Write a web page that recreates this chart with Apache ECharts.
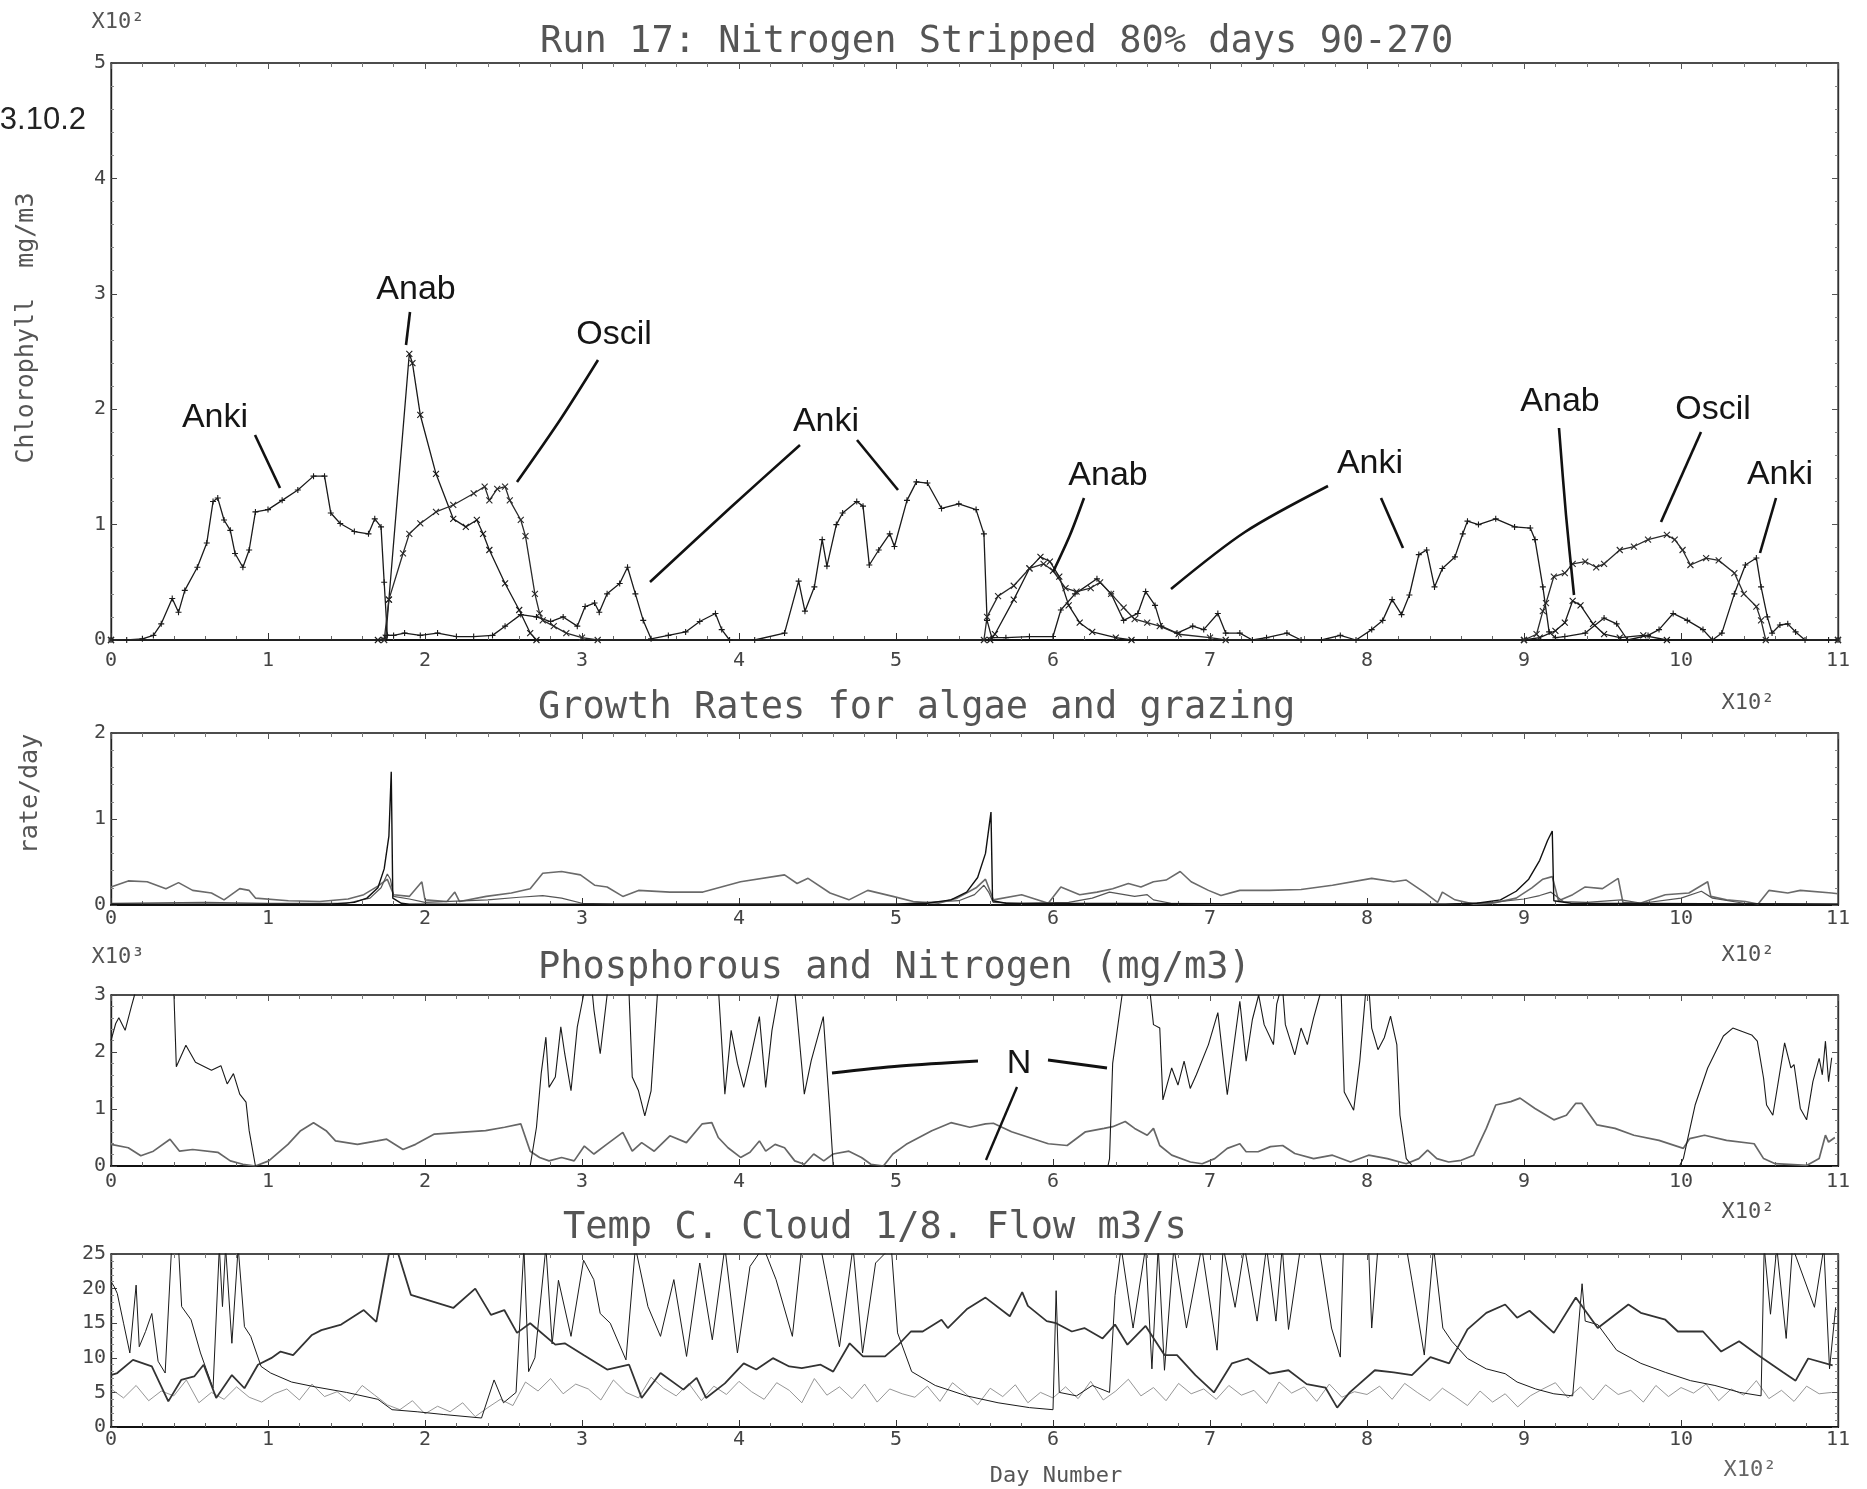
<!DOCTYPE html>
<html><head><meta charset="utf-8">
<script src="https://cdn.jsdelivr.net/npm/echarts@6/dist/echarts.min.js"></script>
<style>html,body{margin:0;padding:0;background:#fff}#c{width:1867px;height:1489px}</style>
</head><body><div id="c"></div><script>
// ---------- DATA (day, value) ----------
const xTickLabels = ['0','1','2','3','4','5','6','7','8','9','10','11'];

// Panel 1: Chlorophyll (x10^2 mg/m3)
const ankiData = [[0,0],[10,0],[20,0.01],[27,0.04],[32,0.14],[39,0.36],[43,0.24],[47,0.43],[55,0.63],[61,0.84],[65,1.2],[68,1.23],[72,1.04],[76,0.95],[79,0.75],[84,0.63],[88,0.78],[92,1.11],[100,1.13],[109,1.21],[119,1.3],[129,1.42],[136,1.42],[140,1.1],[146,1.01],[155,0.94],[164,0.92],[168,1.05],[172,0.98],[174,0.5],[176,0.04],[180,0.04],[187,0.06],[197,0.04],[208,0.06],[220,0.03],[231,0.03],[243,0.04],[251,0.12],[261,0.22],[271,0.2],[280,0.16],[288,0.2],[297,0.12],[302,0.29],[308,0.32],[311,0.24],[316,0.4],[324,0.49],[329,0.63],[334,0.4],[339,0.17],[344,0.01],[355,0.04],[366,0.07],[375,0.16],[385,0.23],[389,0.09],[394,0.0],[410,0.0],[429,0.06],[438,0.51],[442,0.25],[448,0.46],[453,0.87],[456,0.64],[462,1.0],[466,1.1],[475,1.2],[479,1.16],[483,0.65],[489,0.78],[496,0.92],[499,0.81],[507,1.21],[513,1.37],[520,1.36],[529,1.14],[540,1.18],[551,1.13],[556,0.92],[558,0.17],[561,0.02],[570,0.02],[585,0.03],[600,0.03],[605,0.26],[614,0.4],[628,0.53],[637,0.4],[645,0.17],[654,0.23],[659,0.42],[665,0.3],[669,0.12],[679,0.06],[689,0.12],[696,0.09],[705,0.23],[710,0.06],[719,0.06],[727,0.0],[736,0.02],[749,0.06],[758,0.0],[771,0.0],[783,0.04],[793,0.0],[803,0.09],[810,0.17],[816,0.35],[822,0.22],[827,0.39],[833,0.74],[838,0.78],[843,0.46],[848,0.62],[856,0.72],[861,0.92],[864,1.03],[871,1.0],[882,1.05],[894,0.98],[904,0.97],[907,0.87],[912,0.46],[916,0.07],[920,0.02],[926,0.03],[939,0.06],[951,0.19],[959,0.14],[966,0.0],[979,0.04],[986,0.09],[995,0.23],[1004,0.17],[1014,0.09],[1020,0.0],[1026,0.06],[1034,0.4],[1041,0.65],[1048,0.71],[1051,0.46],[1055,0.2],[1058,0.06],[1063,0.13],[1068,0.14],[1073,0.07],[1079,0.0],[1094,0.0],[1100,0.0]];
const anabData = [[0,0],[170,0],[175,0.02],[177,0.35],[190,2.48],[192,2.4],[197,1.95],[207,1.44],[218,1.05],[226,0.98],[233,1.04],[237,0.92],[241,0.78],[251,0.49],[260,0.26],[267,0.06],[271,0.0],[560,0.0],[563,0.05],[575,0.35],[585,0.62],[592,0.72],[598,0.68],[604,0.55],[610,0.3],[617,0.15],[625,0.07],[640,0.02],[650,0.0],[900,0.0],[910,0.02],[920,0.08],[926,0.15],[931,0.34],[936,0.3],[944,0.14],[951,0.05],[961,0.02],[976,0.04],[991,0.0],[1100,0]];
const oscilData = [[0,0],[174,0],[177,0.35],[186,0.75],[190,0.92],[197,1.01],[207,1.11],[218,1.17],[231,1.27],[238,1.33],[241,1.21],[246,1.31],[251,1.33],[254,1.21],[261,1.04],[264,0.9],[270,0.4],[273,0.23],[275,0.17],[282,0.12],[290,0.06],[300,0.02],[310,0],[556,0],[558,0.2],[565,0.38],[575,0.47],[585,0.62],[594,0.66],[600,0.6],[608,0.45],[615,0.42],[624,0.45],[630,0.5],[637,0.4],[645,0.28],[652,0.18],[660,0.15],[668,0.12],[680,0.05],[700,0.02],[710,0],[900,0],[908,0.05],[912,0.25],[914,0.32],[919,0.55],[926,0.58],[931,0.66],[939,0.68],[946,0.63],[951,0.66],[961,0.78],[970,0.81],[979,0.87],[991,0.91],[996,0.87],[1001,0.78],[1006,0.65],[1016,0.71],[1024,0.69],[1034,0.58],[1040,0.4],[1048,0.29],[1051,0.17],[1054,0.0],[1100,0]];

// Panel 2: growth rates (1/day)
const growthSpike = [[0,0.01],[100,0.01],[140,0.01],[155,0.03],[163,0.08],[170,0.2],[174,0.42],[177,0.8],[178.5,1.55],[179.5,0.08],[185,0.02],[190,0.01],[500,0.01],[520,0.02],[535,0.06],[545,0.15],[552,0.32],[557,0.6],[560.5,1.08],[561.5,0.05],[570,0.02],[850,0.01],[870,0.02],[885,0.06],[895,0.16],[903,0.3],[910,0.52],[915,0.75],[918,0.86],[919,0.05],[930,0.02],[1100,0.01]];
const growthLow = [[0,0.02],[60,0.03],[100,0.02],[150,0.02],[165,0.08],[172,0.2],[176,0.36],[178,0.3],[180,0.1],[190,0.07],[200,0.03],[240,0.06],[260,0.09],[275,0.11],[287,0.08],[300,0.02],[320,0.01],[500,0.01],[540,0.05],[550,0.12],[556,0.23],[559,0.15],[562,0.03],[580,0.02],[610,0.03],[625,0.08],[636,0.15],[652,0.1],[660,0.12],[664,0.06],[675,0.02],[700,0.01],[850,0.01],[880,0.03],[900,0.07],[910,0.11],[917,0.15],[925,0.04],[940,0.03],[962,0.06],[975,0.02],[1000,0.08],[1013,0.16],[1020,0.08],[1040,0.02],[1100,0.01]];
const grazing = [[0,0.21],[11,0.28],[23,0.27],[35,0.19],[43,0.26],[52,0.17],[64,0.14],[72,0.06],[82,0.19],[88,0.17],[92,0.08],[113,0.05],[133,0.04],[151,0.07],[161,0.12],[170,0.22],[176,0.3],[180,0.12],[190,0.1],[198,0.27],[200,0.06],[214,0.04],[219,0.15],[222,0.04],[239,0.1],[255,0.14],[267,0.19],[275,0.37],[287,0.39],[299,0.35],[308,0.23],[316,0.21],[326,0.1],[336,0.17],[356,0.15],[377,0.15],[401,0.27],[429,0.35],[437,0.25],[444,0.31],[458,0.14],[470,0.06],[482,0.17],[498,0.1],[511,0.04],[527,0.02],[539,0.08],[551,0.2],[557,0.3],[562,0.06],[580,0.12],[597,0.02],[605,0.21],[617,0.12],[628,0.15],[638,0.19],[648,0.25],[656,0.21],[664,0.27],[672,0.29],[681,0.39],[688,0.27],[699,0.17],[707,0.11],[719,0.17],[738,0.17],[758,0.18],[778,0.23],[803,0.31],[817,0.27],[825,0.29],[837,0.14],[845,0.03],[848,0.15],[856,0.06],[868,0.01],[880,0.02],[895,0.08],[905,0.2],[912,0.3],[918,0.33],[922,0.05],[931,0.12],[939,0.21],[950,0.19],[960,0.31],[963,0.03],[974,0.02],[990,0.12],[1005,0.14],[1017,0.27],[1019,0.1],[1029,0.06],[1041,0.04],[1049,0.01],[1056,0.17],[1068,0.14],[1076,0.17],[1096,0.14],[1100,0.13]];

// Panel 3: Phosphorous and Nitrogen (x10^3 mg/m3)
const nitrogen = [[0,2.2],[3,2.5],[5,2.6],[9,2.38],[13,2.8],[15,3.0],[18,3.5],[38,3.5],[40,3.1],[41.6,1.74],[47.7,2.12],[53.8,1.82],[64,1.68],[70,1.76],[74,1.44],[78,1.62],[82,1.26],[86,1.12],[88,0.62],[92,0.0],[267,0.0],[271,0.68],[274,1.62],[277,2.26],[279,1.38],[283,1.56],[286.5,2.44],[289,1.97],[293,1.32],[297,2.44],[301,3.0],[303,3.4],[306,3.2],[307.6,2.74],[311.6,1.97],[316,3.0],[318,3.5],[328,3.5],[330,3.0],[332,1.56],[336,1.32],[340,0.88],[344,1.32],[348,3.0],[350,3.5],[386,3.5],[388,2.62],[391,1.26],[395,2.38],[399,1.8],[403,1.38],[407,1.85],[413,2.62],[417,1.38],[421,2.38],[425,3.0],[428,3.5],[434,3.5],[436.7,2.74],[441.6,1.26],[446,1.85],[453.7,2.62],[457.8,0.97],[460,0.0],[635,0.0],[636,0.13],[638,1.8],[644,3.0],[647,3.5],[659,3.5],[662,3.0],[664,2.48],[668,2.42],[670,1.16],[675.6,1.72],[679.6,1.42],[683.5,1.84],[687.4,1.36],[691.3,1.6],[699,2.13],[705,2.69],[709,1.72],[711,1.25],[715,2.07],[719,2.89],[723,1.84],[727,2.57],[731,3.0],[734.5,2.48],[740.4,2.13],[742.5,2.84],[746,3.2],[748,2.48],[754,1.95],[758,2.42],[762,2.13],[766,2.6],[770,3.0],[773,3.5],[781,3.5],[783.6,3.0],[785.5,1.3],[791.5,0.98],[795.4,1.84],[799,3.0],[801,3.2],[803,2.42],[807,2.04],[811,2.25],[815,2.63],[819,2.13],[821,0.89],[825,0.13],[829,0.0],[999,0.0],[1001.5,0.13],[1009,1.07],[1017,1.72],[1027,2.28],[1033,2.42],[1039,2.36],[1045,2.3],[1048.6,2.19],[1052.6,1.54],[1054.5,1.07],[1058.5,0.89],[1066,2.16],[1070,1.72],[1072,1.78],[1076,1.01],[1080,0.81],[1084,1.48],[1088,1.89],[1090,1.6],[1092,2.19],[1094,1.48],[1096,1.9]];
const phosphorus = [[0,0.38],[11,0.32],[19,0.18],[27,0.26],[37.6,0.47],[43.7,0.26],[52,0.29],[68,0.24],[76,0.09],[84,0.03],[92,0.0],[100.5,0.09],[112.7,0.38],[120.8,0.62],[129,0.76],[137,0.62],[143,0.44],[157,0.38],[169.5,0.44],[175.6,0.47],[186,0.29],[194,0.38],[206,0.56],[222,0.59],[238.6,0.62],[250.7,0.68],[261,0.74],[267,0.26],[273,0.15],[279,0.09],[287,0.15],[295,0.09],[301.5,0.35],[307.6,0.21],[315.7,0.38],[326,0.59],[332,0.26],[338,0.41],[346,0.26],[356,0.53],[366.5,0.41],[376.6,0.74],[382.7,0.76],[386.8,0.5],[393,0.32],[401,0.15],[407,0.24],[413,0.44],[417,0.26],[423,0.38],[429,0.32],[435.5,0.09],[441.6,0.03],[447.6,0.21],[454,0.09],[460,0.21],[470,0.26],[478,0.15],[484,0.03],[492,0.0],[498,0.21],[506.5,0.38],[522.8,0.62],[535,0.76],[547,0.68],[557,0.74],[562,0.75],[573.6,0.6],[597,0.39],[609,0.36],[620.7,0.6],[632.5,0.66],[638,0.69],[646,0.78],[652,0.66],[660,0.54],[664,0.66],[668,0.36],[675.6,0.19],[687.5,0.07],[695,0.04],[703,0.13],[711,0.31],[719,0.39],[723,0.25],[730.6,0.25],[738.5,0.34],[746.3,0.36],[754,0.22],[766,0.13],[778,0.19],[789.5,0.07],[801,0.19],[813,0.13],[825,0.04],[833,0.13],[838.6,0.28],[844.5,0.13],[852,0.07],[860,0.1],[868,0.19],[876,0.66],[882,1.07],[891.6,1.13],[897.5,1.19],[907,1.01],[919,0.81],[927,0.89],[933,1.1],[936.7,1.1],[946.5,0.72],[958,0.66],[970,0.54],[986,0.45],[1001.5,0.31],[1005.5,0.48],[1015,0.54],[1029,0.45],[1046.6,0.39],[1052.6,0.13],[1060,0.04],[1080,0.01],[1088,0.13],[1092,0.54],[1094,0.42],[1098,0.5]];

// Panel 4: Temp C, Cloud 1/8, Flow m3/s
const temperature = [[0,7.5],[4,7.8],[14,9.7],[26,8.75],[36.5,3.7],[44.7,6.8],[53,7.3],[59,9.0],[67,4.2],[77,7.5],[85,5.6],[93.6,9.0],[102,9.95],[108,10.9],[116,10.4],[128,13.3],[134,14.0],[146.6,14.8],[161,16.9],[169,15.2],[177,25],[183,25],[191,19.1],[218,17.2],[232,20.0],[242,16.2],[250.5,16.9],[258.6,13.6],[267,15.0],[283,11.9],[289,12.1],[301,10.4],[316,8.3],[330,9.0],[338,4.2],[350,7.8],[364.6,5.4],[373,7.1],[379,4.2],[391,6.3],[403,9.2],[411,8.3],[421.6,9.95],[432,8.75],[440,8.5],[452,9.0],[460,8.0],[470.5,12.1],[479,10.2],[493,10.2],[501.6,11.9],[509.5,13.8],[517,13.8],[529,15.5],[533,14.3],[545,17.0],[557,18.7],[572.5,16.0],[580.4,19.5],[584,17.5],[596,15.3],[602,15.0],[612,13.8],[620,14.3],[631.6,12.8],[639.5,14.8],[647.4,11.9],[659,14.6],[671,10.4],[679,10.4],[690.7,7.5],[702.5,5.0],[714,9.2],[724,9.9],[738,7.7],[750,8.2],[761.6,6.2],[773.5,5.7],[781,2.8],[789,5.0],[805,8.2],[817,7.9],[828.6,7.5],[840.4,10.1],[852.3,9.2],[864,14.1],[876,16.5],[888,17.7],[895.6,15.8],[903.5,16.8],[919,13.6],[933,18.7],[947,14.3],[966.5,17.7],[974.4,16.5],[990,15.5],[998,13.8],[1014,13.8],[1025.6,10.9],[1037,12.4],[1049,10.4],[1065,7.9],[1073,6.7],[1081,9.9],[1096.6,8.9]];
const flow = [[0,21],[2,20.3],[4,19.3],[8,15],[12,10.7],[16,20.5],[18,11.6],[22,13.8],[26,16.4],[30,9.5],[34.5,7.8],[38.6,26],[43,26],[45,17.4],[51,15.5],[57,10.7],[65,5.6],[69,26],[71,17.4],[73,26],[77,12.1],[81,26],[85,14.5],[89,13.1],[95.6,8.75],[101.7,7.8],[115,6.5],[130,5.8],[150,5.0],[170,4.0],[179,2.5],[195,2.2],[212,1.8],[236,1.3],[244,6.8],[250,3.5],[258,5.0],[263,26],[266,8],[270,10],[277,26],[281,12],[285,21.2],[293,13.1],[301,24.1],[307.5,21.3],[311.6,16.4],[318,15.0],[328,9.7],[334,26],[342,17.4],[350,13.1],[358.5,21.3],[366.6,10.2],[375,23.7],[383,12.6],[391,26],[399,10.7],[407,23.2],[415.5,26],[423.6,21.3],[434,13.1],[440,26],[452,26],[456,21.3],[464,11.6],[472.6,26],[478.7,10.7],[487,23.7],[497,26],[501,13.6],[510,8],[525,6.0],[545,4.5],[565,3.5],[585,2.8],[600,2.5],[602,19.7],[604,5],[615,4.5],[625,6],[636,5],[639.5,19.0],[643.4,26],[651,14.3],[659,26],[663,8.4],[667,26],[671,8.2],[677,26],[685,14.3],[694.7,26],[704.5,11.1],[708.4,26],[716,17.3],[722,26],[730,15.3],[736,26],[742,15.3],[746,26],[750,14.1],[757.7,26],[769.5,26],[777.4,14.3],[783,10.1],[785,26],[801,26],[803,14.3],[807,26],[825,26],[828.6,21.2],[836.5,10.4],[842.4,26],[848.3,14.3],[854,12.4],[864,9.9],[876,8.4],[888,7.7],[895.6,6.5],[907.4,5.5],[919,4.8],[931,4.5],[937,20.7],[939,15.3],[947,14.8],[959,11.1],[974.4,9.2],[990,7.9],[1006,6.7],[1021.6,6.0],[1037.4,5.0],[1051,4.5],[1053,26],[1057,16.3],[1061,26],[1067,12.8],[1071,26],[1085,17.3],[1091,26],[1094.6,8.4],[1098.5,17.3]];
const cloudDayStep = 8;
const cloudVals = [5.5,4.2,6.0,3.8,5.2,4.5,6.8,3.5,5.0,4.0,5.8,4.3,3.6,
 4.8,5.5,3.9,6.2,4.4,5.1,3.7,6.0,4.6,3.2,
 2.5,3.8,1.9,3.0,2.2,3.5,1.5,2.8,4.0,3.1,
 6.5,5.2,7.0,4.8,6.2,5.5,3.9,6.8,5.0,4.2,7.2,5.6,4.5,6.3,3.8,5.9,4.7,6.6,
 5.1,4.0,6.4,5.3,3.5,7.0,4.6,5.8,4.1,6.2,3.6,5.5,4.8,
 4.3,5.9,3.7,6.4,4.9,3.2,5.6,4.4,6.1,3.5,5.0,4.2,
 5.8,4.1,6.6,3.9,5.2,6.9,4.5,5.7,3.8,6.3,4.8,5.5,4.0,
 6.0,4.6,5.3,3.4,6.5,4.9,5.8,3.7,6.2,4.3,5.1,4.7,
 5.9,4.0,6.3,5.0,3.8,5.6,4.4,3.1,5.2,3.6,4.8,2.9,4.5,
 5.5,6.4,4.2,5.8,3.9,6.1,4.7,5.3,3.6,6.0,4.4,5.7,
 4.9,6.2,3.8,5.5,4.6,6.7,4.1,5.3,3.7,5.9,4.8,5.0];
const cloud = cloudVals.map((v, i) => [i * cloudDayStep, v]);

// ---------- LAYOUT ----------
const MONO = '"DejaVu Sans Mono", monospace';
const SANS = '"Liberation Sans", Arial, sans-serif';
const grids = [
  {top: 63, height: 577},
  {top: 733, height: 172},
  {top: 995, height: 171},
  {top: 1254, height: 173}
];
const yRanges = [[0,5,1],[0,2,1],[0,3,1],[0,25,5]];
const xLabelMargins = [11, 4, 6, 3];

const gridOpts = grids.map(g => ({left: 111, right: 29, top: g.top, height: g.height, show: true, borderColor: '#333', borderWidth: 1.2, containLabel: false}));
const xAxes = [], yAxes = [];
grids.forEach((g, i) => {
  xAxes.push({type: 'value', gridIndex: i, min: 0, max: 1100, interval: 100, position: 'bottom',
    axisLine: {show: true, onZero: false, lineStyle: {color: '#111', width: 2.2}},
    axisTick: {show: true, inside: true, length: 7, lineStyle: {color: '#333'}},
    minorTick: {show: true, splitNumber: 5, length: 4, lineStyle: {color: '#666'}},
    splitLine: {show: false},
    axisLabel: {show: true, margin: xLabelMargins[i], fontFamily: MONO, fontSize: 20, color: '#444',
      formatter: v => xTickLabels[Math.round(v / 100)]}});
  xAxes.push({type: 'value', gridIndex: i, min: 0, max: 1100, interval: 100, position: 'top',
    axisLine: {show: true, onZero: false, lineStyle: {color: '#333', width: 1.6}},
    axisTick: {show: true, inside: true, length: 6, lineStyle: {color: '#555'}},
    minorTick: {show: true, splitNumber: 5, length: 4, lineStyle: {color: '#777'}},
    splitLine: {show: false}, axisLabel: {show: false}});
  const r = yRanges[i];
  yAxes.push({type: 'value', gridIndex: i, min: r[0], max: r[1], interval: r[2], position: 'left',
    axisLine: {show: true, onZero: false, lineStyle: {color: '#222', width: 1.4}},
    axisTick: {show: true, inside: true, length: 6, lineStyle: {color: '#444'}},
    minorTick: {show: true, splitNumber: 5, length: 3, lineStyle: {color: '#888'}},
    splitLine: {show: false},
    axisLabel: {show: true, margin: 5, fontFamily: MONO, fontSize: 20, color: '#444'}});
  yAxes.push({type: 'value', gridIndex: i, min: r[0], max: r[1], interval: r[2], position: 'right',
    axisLine: {show: true, onZero: false, lineStyle: {color: '#333', width: 1.4}},
    axisTick: {show: true, inside: true, length: 6, lineStyle: {color: '#555'}},
    minorTick: {show: true, splitNumber: 5, length: 3, lineStyle: {color: '#888'}},
    splitLine: {show: false}, axisLabel: {show: false}});
});

const CROSS_X = 'path://M0,0L10,10M10,0L0,10';
const CROSS_P = 'path://M5,0L5,10M0,5L10,5';
function line(data, gi, color, width, extra) {
  return Object.assign({type: 'line', data: data, xAxisIndex: gi * 2, yAxisIndex: gi * 2,
    showSymbol: false, symbol: 'none', clip: true, animation: false, silent: true,
    lineStyle: {color: color, width: width}}, extra || {});
}
function marked(data, sym, color) {
  return line(data, 0, color, 1.3, {showSymbol: true, symbol: sym, symbolSize: 6,
    itemStyle: {color: 'none', borderColor: color, borderWidth: 1.1}});
}

const series = [
  marked(ankiData, CROSS_P, '#1a1a1a'),
  marked(anabData, CROSS_X, '#1a1a1a'),
  marked(oscilData, CROSS_X, '#2a2a2a'),
  line(grazing, 1, '#6a6a6a', 1.6),
  line(growthLow, 1, '#555', 1.2),
  line(growthSpike, 1, '#111', 1.4),
  line(phosphorus, 2, '#666', 1.7),
  line(nitrogen, 2, '#1a1a1a', 1.1),
  line(cloud, 3, '#8a8a8a', 0.9),
  line(flow, 3, '#1a1a1a', 1.0),
  line(temperature, 3, '#333', 1.8)
];

// ---------- TEXT & ANNOTATIONS ----------
function txt(text, x, y, font, fill, align, extra) {
  return Object.assign({type: 'text', x: x, y: y, silent: true, z: 100,
    style: {text: text, font: font, fill: fill, align: align || 'left', textAlign: align || 'left',
      verticalAlign: 'middle', textVerticalAlign: 'middle'}}, extra || {});
}
function pl(points, w) {
  return {type: 'polyline', silent: true, z: 100, shape: {points: points, smooth: 0.3},
    style: {stroke: '#111', lineWidth: w || 2.6, fill: null}};
}
const TITLE_FONT = '37px ' + MONO;
const ANN_FONT = '34px ' + SANS;
const graphics = [
  txt('Run 17: Nitrogen Stripped 80% days 90-270', 540, 42, TITLE_FONT, '#555'),
  txt('Growth Rates for algae and grazing', 538, 708, TITLE_FONT, '#555'),
  txt('Phosphorous and Nitrogen (mg/m3)', 538, 968, TITLE_FONT, '#555'),
  txt('Temp C. Cloud 1/8. Flow m3/s', 563, 1228, TITLE_FONT, '#555'),
  txt('X10²', 118, 22, '22px ' + MONO, '#555', 'center'),
  txt('X10³', 118, 957, '22px ' + MONO, '#555', 'center'),
  txt('X10²', 1748, 703, '22px ' + MONO, '#555', 'center'),
  txt('X10²', 1748, 955, '22px ' + MONO, '#555', 'center'),
  txt('X10²', 1748, 1212, '22px ' + MONO, '#555', 'center'),
  txt('X10²', 1750, 1470, '22px ' + MONO, '#666', 'center'),
  txt('Day Number', 1056, 1476, '22px ' + MONO, '#555', 'center'),
  txt('Chlorophyll  mg/m3', 26, 328, '25px ' + MONO, '#555', 'center', {rotation: Math.PI / 2}),
  txt('rate/day', 30, 794, '25px ' + MONO, '#555', 'center', {rotation: Math.PI / 2}),
  txt('3.10.2', 86, 120, '31px ' + SANS, '#222', 'right'),
  // annotations panel 1
  txt('Anki', 215, 418, ANN_FONT, '#151515', 'center'),
  pl([[255,435],[280,488]]),
  txt('Anab', 416, 290, ANN_FONT, '#151515', 'center'),
  pl([[410,312],[406,345]]),
  txt('Oscil', 614, 335, ANN_FONT, '#151515', 'center'),
  pl([[598,360],[560,420],[517,482]]),
  txt('Anki', 826, 422, ANN_FONT, '#151515', 'center'),
  pl([[800,445],[730,508],[650,582]]),
  pl([[857,440],[898,490]]),
  txt('Anab', 1108, 476, ANN_FONT, '#151515', 'center'),
  pl([[1084,498],[1070,535],[1053,572]]),
  txt('Anki', 1370, 464, ANN_FONT, '#151515', 'center'),
  pl([[1328,486],[1245,532],[1171,589]]),
  pl([[1381,498],[1403,548]]),
  txt('Anab', 1560, 402, ANN_FONT, '#151515', 'center'),
  pl([[1559,428],[1566,515],[1574,595]]),
  txt('Oscil', 1713, 410, ANN_FONT, '#151515', 'center'),
  pl([[1701,432],[1661,522]]),
  txt('Anki', 1780, 475, ANN_FONT, '#151515', 'center'),
  pl([[1776,498],[1760,553]]),
  // panel 3 N annotation
  txt('N', 1019, 1064, ANN_FONT, '#151515', 'center'),
  pl([[832,1073],[900,1066],[978,1061]], 3),
  pl([[1048,1060],[1107,1068]], 3),
  pl([[1017,1087],[986,1160]], 2.4)
];

const chart = echarts.init(document.getElementById('c'), null, {renderer: 'canvas', width: 1867, height: 1489});
chart.setOption({
  backgroundColor: '#ffffff',
  animation: false,
  grid: gridOpts,
  xAxis: xAxes,
  yAxis: yAxes,
  series: series,
  graphic: {elements: graphics}
});
</script></body></html>
